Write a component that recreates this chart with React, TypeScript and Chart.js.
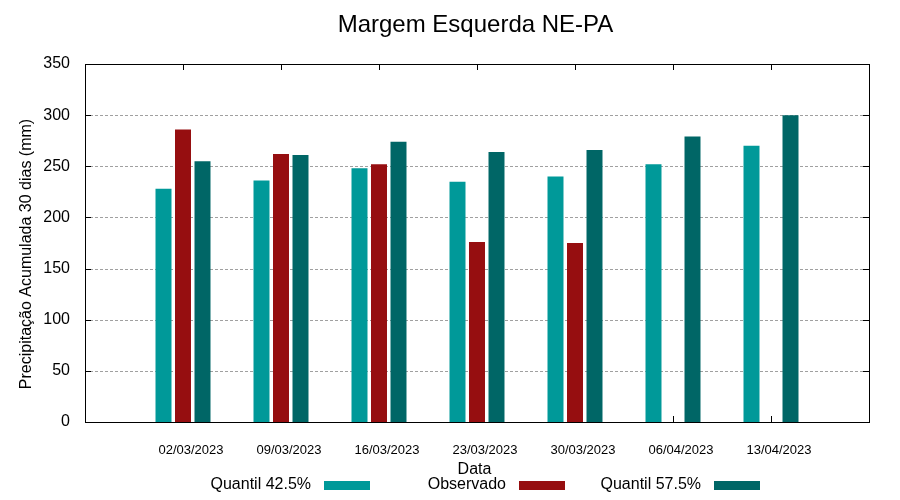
import React, { useEffect, useRef } from "react";
import { Chart, registerables } from "chart.js";

Chart.register(...registerables);

const chartTitle = "Margem Esquerda NE-PA";
const yTitle = "Precipitação Acumulada 30 dias (mm)";
const xTitle = "Data";
const categories = ["02/03/2023", "09/03/2023", "16/03/2023", "23/03/2023", "30/03/2023", "06/04/2023", "13/04/2023"];
const seriesNames = ["Quantil 42.5%", "Observado", "Quantil 57.5%"];
const quantil425 = [228, 236, 248, 235, 240, 252, 270];
const observado = [286, 262, 252, 176, 175, null, null];
const quantil575 = [255, 261, 274, 264, 266, 279, 300];
const seriesColors = ["#009999", "#960e10", "#006666"];
const yTicks = [0, 50, 100, 150, 200, 250, 300, 350];

const FONT = "'Liberation Sans', Arial, sans-serif";

const pad = (arr: (number | null)[]) => [null, ...arr, null];

const decorPlugin = {
  id: "decor",
  beforeDatasetsDraw(chart: any) {
    const { ctx, chartArea: a, scales } = chart;
    const y = scales.y;
    const x = scales.x;
    ctx.save();
    ctx.strokeStyle = "#a0a0a0";
    ctx.lineWidth = 1;
    ctx.setLineDash([3, 2]);
    yTicks.forEach((v) => {
      if (v === 0 || v === 350) return;
      const py = Math.round(y.getPixelForValue(v)) + 0.5;
      ctx.beginPath();
      ctx.moveTo(a.left, py);
      ctx.lineTo(a.right, py);
      ctx.stroke();
    });
    ctx.setLineDash([]);
    ctx.strokeStyle = "#000";
    yTicks.forEach((v) => {
      const py = Math.round(y.getPixelForValue(v)) + 0.5;
      ctx.beginPath();
      ctx.moveTo(a.left, py);
      ctx.lineTo(a.left + 6, py);
      ctx.moveTo(a.right, py);
      ctx.lineTo(a.right - 6, py);
      ctx.stroke();
    });
    categories.forEach((_, i) => {
      const px = Math.round(x.getPixelForValue(i + 1)) + 0.5;
      ctx.beginPath();
      ctx.moveTo(px, a.bottom);
      ctx.lineTo(px, a.bottom - 6);
      ctx.moveTo(px, a.top);
      ctx.lineTo(px, a.top + 6);
      ctx.stroke();
    });
    ctx.restore();
  },
  afterDatasetsDraw(chart: any) {
    const { ctx, chartArea: a } = chart;
    ctx.save();
    ctx.strokeStyle = "#000";
    ctx.lineWidth = 1;
    ctx.strokeRect(Math.round(a.left) + 0.5, Math.round(a.top) + 0.5, Math.round(a.right - a.left), Math.round(a.bottom - a.top));
    ctx.fillStyle = "#000";
    ctx.textAlign = "center";
    ctx.textBaseline = "alphabetic";
    ctx.font = `24px ${FONT}`;
    ctx.fillText(chartTitle, 475.5, 32);
    ctx.font = `16px ${FONT}`;
    ctx.fillText(xTitle, 474.5, 474);
    ctx.save();
    ctx.translate(31, 254);
    ctx.rotate(-Math.PI / 2);
    ctx.fillText(yTitle, 0, 0);
    ctx.restore();
    const textRight = [311, 506, 701];
    const boxLeft = [324, 519, 714];
    ctx.textAlign = "right";
    seriesNames.forEach((name, i) => {
      ctx.fillStyle = "#000";
      ctx.fillText(name, textRight[i], 489);
      ctx.fillStyle = seriesColors[i];
      ctx.fillRect(boxLeft[i], 481, 46, 9);
    });
    ctx.restore();
  },
};

export default function App() {
  const ref = useRef<HTMLCanvasElement | null>(null);
  useEffect(() => {
    document.body.style.margin = "0";
    if (!ref.current) return;
    const data = [quantil425, observado, quantil575];
    const chart = new Chart(ref.current, {
      type: "bar",
      data: {
        labels: ["", ...categories, ""],
        datasets: seriesNames.map((name, i) => ({
          label: name,
          data: pad(data[i] as (number | null)[]),
          backgroundColor: seriesColors[i],
          borderWidth: 0,
          categoryPercentage: 0.597,
          barPercentage: 0.82,
        })),
      },
      options: {
        animation: false,
        responsive: false,
        devicePixelRatio: 1,
        layout: { padding: { left: 0, top: 64, right: 31, bottom: 0 } },
        plugins: { legend: { display: false }, title: { display: false }, tooltip: { enabled: false } },
        scales: {
          x: {
            type: "category",
            offset: false,
            grid: { display: false, drawTicks: false },
            border: { display: false },
            ticks: {
              autoSkip: false,
              maxRotation: 0,
              minRotation: 0,
              labelOffset: 8,
              padding: 21,
              color: "#000",
              font: { family: FONT, size: 13 },
            },
            afterFit: (s: any) => {
              s.height = 78;
            },
          },
          y: {
            min: 0,
            max: 350,
            grid: { display: false, drawTicks: false },
            border: { display: false },
            ticks: {
              stepSize: 50,
              padding: 15,
              color: "#000",
              font: { family: FONT, size: 16 },
            },
            afterFit: (s: any) => {
              s.width = 85;
            },
          },
        },
      },
      plugins: [decorPlugin],
    });
    return () => chart.destroy();
  }, []);
  return (
    <div style={{ position: "absolute", left: 0, top: 0, width: 900, height: 500 }}>
      <canvas ref={ref} width={900} height={500} style={{ width: 900, height: 500 }} />
    </div>
  );
}
